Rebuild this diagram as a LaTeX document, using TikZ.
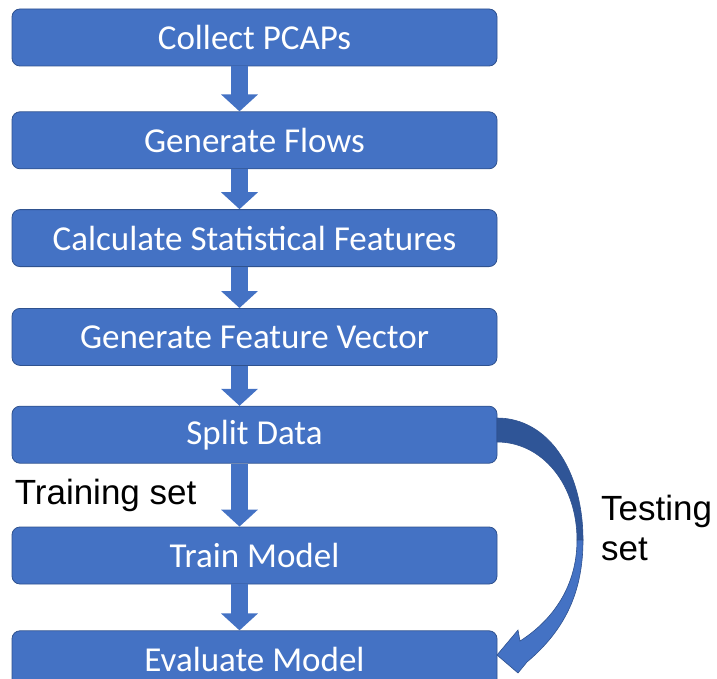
\documentclass[tikz,border=0pt]{standalone}
\usepackage{fontspec}
\setmainfont{Carlito}
\newfontfamily\arialfont{Liberation Sans}
\usepackage{tikz}
\usetikzlibrary{positioning,arrows.meta,calc}
\definecolor{boxblue}{HTML}{4472C4}
\definecolor{boxedge}{HTML}{2F528F}
\definecolor{curvedark}{HTML}{2F5597}
\tikzset{
	x=1pt, y=-1pt,
	every node/.style = {inner sep = 0},
	stepbox/.style = {draw=boxedge, line width=0.8pt, fill=boxblue, rounded corners=8pt,
		minimum width=485pt, minimum height=57pt, text=white,
		font=\fontsize{35}{40}\selectfont},
	sidelabel/.style = {font=\arialfont\fontsize{35}{40}\selectfont, align=left, anchor=west},
	blockarrow/.style = {boxblue, line width=17pt, -{Triangle[width=36pt,length=17pt]}}
}

\begin{document}
\begin{tikzpicture}
		\useasboundingbox (0,0) rectangle (717,679);
		
		\node[stepbox] at (254.5,37.5) (collect) {Collect PCAPs};
		\node[stepbox, below=45pt of collect] (flows) {Generate Flows};
		\node[stepbox, below=40pt of flows] (stats) {Calculate Statistical Features};
		\node[stepbox, below=41pt of stats] (vector) {Generate Feature Vector};
		\node[stepbox, below=40pt of vector] (split) {Split Data};
		\node[stepbox, below=63pt of split] (train) {Train Model};
		\node[stepbox, below=46pt of train] (evaluate) {Evaluate Model};
		
		\draw[blockarrow] ([xshift=-15pt]collect.south) -- ([xshift=-15pt]flows.north);
		\draw[blockarrow] ([xshift=-15pt]flows.south) -- ([xshift=-15pt]stats.north);
		\draw[blockarrow] ([xshift=-15pt]stats.south) -- ([xshift=-15pt]vector.north);
		\draw[blockarrow] ([xshift=-15pt]vector.south) -- ([xshift=-15pt]split.north);
		\draw[blockarrow] ([xshift=-15pt]split.south) -- ([xshift=-15pt]train.north);
		\draw[blockarrow] ([xshift=-15pt]train.south) -- ([xshift=-15pt]evaluate.north);
		
		% curved arrow for the testing set
		\filldraw[curvedark, draw=boxedge, line width=0.6pt] (497,418) .. controls (548,418) and (583,470) .. (583,540)
			-- (577,540) .. controls (577,484) and (542,442) .. (497,442) -- cycle;
		\filldraw[boxblue, draw=boxedge, line width=0.6pt] (583,540) .. controls (583,592) and (565,630) .. (527,662)
			-- (518,673) -- (497,655) -- (518,630) -- (520,641) .. controls (553,620) and (577,586) .. (577,540) -- cycle;
		
		\node[sidelabel, xshift=3pt] (trainset) at ($(split.south west)!0.5!(train.north west)$) {Training set};
		\node[sidelabel] (testset) at (601,528) {Testing\\set};
\end{tikzpicture}
\end{document}
